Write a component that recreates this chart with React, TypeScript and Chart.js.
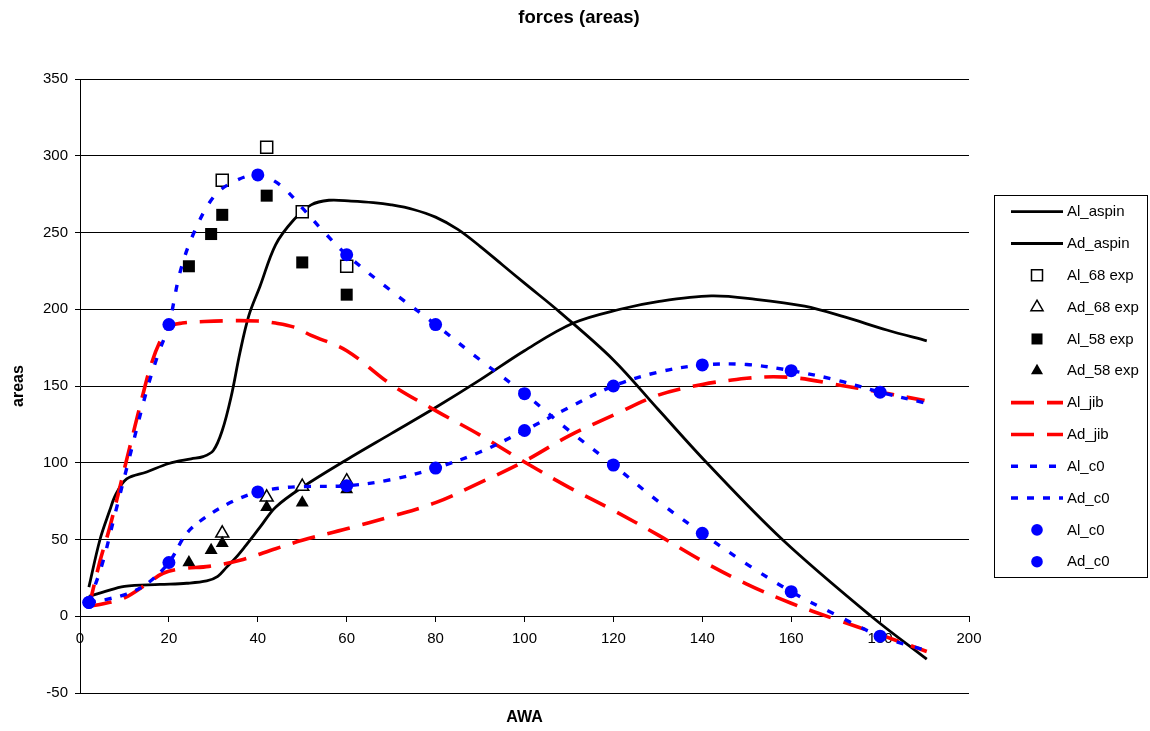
import React, { useEffect, useRef } from 'react';
import { Chart, registerables } from 'chart.js';

Chart.register(...registerables);

const FONT = "'Liberation Sans', Arial, sans-serif";

// ---- axis ranges / ticks ----
const X_MIN = 0;
const X_MAX = 200;
const X_STEP = 20;
const Y_MIN = -50;
const Y_MAX = 350;
const Y_STEP = 50;

// ---- smooth line series ----
const alAspinX = [2, 4.5, 6.7, 8, 10.5, 15, 20, 25, 27.7, 30, 32, 34, 36, 38, 40.5, 44, 48, 52, 56, 61, 66, 70, 75, 80, 85, 90, 95, 100, 108, 120, 130, 141, 158, 178, 190.5];
const alAspinY = [19, 50, 69, 79, 89.5, 94, 99.5, 102.5, 104, 108, 121, 143, 172, 196, 215, 242, 258, 268, 271, 270.5, 269.5, 268, 265, 260, 252, 241, 229, 217, 198, 167, 135, 100, 50, 0, -28];

const adAspinX = [2, 5, 10, 18, 24, 28.5, 31, 33, 35, 37, 40.5, 44, 50, 60, 70, 80, 90, 100, 111, 121.5, 130, 142, 152, 163, 172, 181.5, 190.5];
const adAspinY = [13, 15.5, 19.5, 20.7, 21.5, 23, 26, 32, 38, 45, 58, 71, 84, 102, 119, 136, 154, 173, 191, 200, 205, 208.7, 206.5, 202, 195, 186.5, 179.4];

const alJibX = [2, 4.5, 6.7, 10.5, 14.2, 16, 18, 20, 23, 28, 35, 40, 44, 48, 52, 60, 70, 80, 90, 100, 110, 120, 130, 140, 150, 160, 170, 180, 190.5];
const alJibY = [6, 36, 58, 102, 145, 164, 179, 188.5, 191, 192, 192.6, 192.3, 191, 188.5, 183, 173, 151, 134, 118, 100.5, 84, 69, 53, 36, 21, 8.5, -2, -12, -23];

const adJibX = [2, 5, 10, 15, 18.7, 23, 29, 36, 44, 50, 60, 70, 80, 90, 100, 110, 120, 130, 140, 150, 156, 162, 170, 180, 190];
const adJibY = [6.5, 8, 12, 21, 28, 31, 32.5, 36.5, 44, 49.5, 57, 65, 74, 87, 101, 117.5, 131, 144, 151, 155, 156, 155, 151, 146, 140.5];

const alC0LineX = [2, 5, 8, 11, 15, 17.5, 20, 22.5, 25.5, 30, 34.5, 40, 45, 50, 55, 60, 70, 80, 90, 100, 110, 120, 130, 140, 150, 160, 170, 180, 190];
const alC0LineY = [9, 34, 68, 102, 147, 170, 190, 224, 249, 273, 283, 287.5, 281, 266, 250, 235.5, 212, 190, 167, 145, 121, 98.5, 75, 54, 34, 16, 1, -13, -22];

const adC0LineX = [2, 6, 10.5, 15, 20, 24, 28.5, 34.5, 40, 45, 50, 60, 70, 80, 90, 100, 110, 120, 130, 140, 150, 160, 170, 180, 190];
const adC0LineY = [9, 11, 14.5, 21, 35, 54, 65, 75, 81, 83.5, 84.5, 85, 89, 96.5, 107, 121, 136, 150, 159, 163.7, 164, 160, 154, 146, 139];

// ---- experimental markers ----
const expX68 = [32, 42, 50, 60];
const al68Y = [284, 305.5, 263.5, 228];
const ad68Y = [54, 77.5, 84.5, 88];

const expX58 = [24.5, 29.5, 32, 42, 50, 60];
const al58Y = [228, 249, 261.5, 274, 230.5, 209.5];
const ad58Y = [35, 43, 47.5, 71, 74, 82.5];

// ---- c0 computed points ----
const c0PointX = [2, 20, 40, 60, 80, 100, 120, 140, 160, 180];
const alC0Pts = [9, 190, 287.5, 235.5, 190, 145, 98.5, 54, 16, -13];
const adC0Pts = [9, 35, 81, 85, 96.5, 121, 150, 163.7, 160, 146];

const BLACK = '#000000';
const RED = '#FF0000';
const BLUE = '#0000FF';

const zip = (xs: number[], ys: number[]) => xs.map((x, i) => ({ x, y: ys[i] }));

function lineDs(label: string, xs: number[], ys: number[], color: string, width: number, dash: number[]) {
  return {
    label,
    data: zip(xs, ys),
    borderColor: color,
    backgroundColor: color,
    borderWidth: width,
    borderDash: dash,
    borderCapStyle: 'butt',
    borderJoinStyle: 'round',
    pointRadius: 0,
    pointHoverRadius: 0,
    fill: false,
    showLine: true,
    tension: 0.35,
  };
}

function markerDs(label: string, xs: number[], ys: number[], style: string, radius: number, bg: string, border: string, bw: number) {
  return {
    label,
    data: zip(xs, ys),
    showLine: false,
    pointStyle: style,
    pointRadius: radius,
    pointHoverRadius: radius,
    pointBackgroundColor: bg,
    pointBorderColor: border,
    pointBorderWidth: bw,
    borderColor: border,
    backgroundColor: bg,
  };
}

function drawMarker(ctx: CanvasRenderingContext2D, style: string, x: number, y: number, fill: string, stroke: string, bw: number) {
  ctx.save();
  ctx.setLineDash([]);
  ctx.beginPath();
  if (style === 'rect') {
    const s = 11;
    ctx.rect(x - s / 2, y - s / 2, s, s);
  } else if (style === 'triangle') {
    const r = 7;
    ctx.moveTo(x, y - r);
    ctx.lineTo(x + r * 0.866, y + r / 2);
    ctx.lineTo(x - r * 0.866, y + r / 2);
    ctx.closePath();
  } else {
    ctx.arc(x, y, 5.8, 0, Math.PI * 2);
  }
  ctx.fillStyle = fill;
  ctx.fill();
  if (bw > 0) {
    ctx.lineWidth = bw;
    ctx.strokeStyle = stroke;
    ctx.stroke();
  }
  ctx.restore();
}

const boxLegend = {
  id: 'boxLegend',
  afterDraw(chart: any) {
    const ctx: CanvasRenderingContext2D = chart.ctx;
    const left = 994, top = 195, right = 1147, bottom = 577;
    ctx.save();
    ctx.setLineDash([]);
    ctx.lineWidth = 1;
    ctx.strokeStyle = '#000';
    ctx.strokeRect(left + 0.5, top + 0.5, right - left, bottom - top);
    const n = chart.data.datasets.length;
    const first = 211.7;
    const step = (561.7 - first) / (n - 1);
    chart.data.datasets.forEach((ds: any, i: number) => {
      const y = first + i * step;
      if (ds.showLine === false) {
        drawMarker(ctx, ds.pointStyle, 1037, y, ds.pointBackgroundColor, ds.pointBorderColor, ds.pointBorderWidth);
      } else {
        ctx.save();
        ctx.strokeStyle = ds.borderColor;
        ctx.lineWidth = ds.borderWidth;
        ctx.lineCap = 'butt';
        ctx.setLineDash(ds.borderDash || []);
        ctx.beginPath();
        ctx.moveTo(1011, y);
        ctx.lineTo(1063, y);
        ctx.stroke();
        ctx.restore();
      }
      ctx.fillStyle = '#000';
      ctx.font = `15px ${FONT}`;
      ctx.textAlign = 'left';
      ctx.textBaseline = 'middle';
      ctx.fillText(ds.label, 1067, y + 0.5);
    });
    ctx.restore();
  },
};

export default function App() {
  const ref = useRef<HTMLCanvasElement | null>(null);

  useEffect(() => {
    document.body.style.margin = '0';
    const canvas = ref.current;
    if (!canvas) return;

    const datasets: any[] = [
      lineDs('Al_aspin', alAspinX, alAspinY, BLACK, 2.8, []),
      lineDs('Ad_aspin', adAspinX, adAspinY, BLACK, 2.8, []),
      markerDs('Al_68 exp', expX68, al68Y, 'rect', 8.5, '#FFFFFF', BLACK, 1.5),
      markerDs('Ad_68 exp', expX68, ad68Y, 'triangle', 7.5, '#FFFFFF', BLACK, 1.5),
      markerDs('Al_58 exp', expX58, al58Y, 'rect', 8.5, BLACK, BLACK, 0),
      markerDs('Ad_58 exp', expX58, ad58Y, 'triangle', 7.5, BLACK, BLACK, 0),
      lineDs('Al_jib', alJibX, alJibY, RED, 3.6, [23, 13]),
      lineDs('Ad_jib', adJibX, adJibY, RED, 3.6, [23, 13]),
      lineDs('Al_c0', alC0LineX, alC0LineY, BLUE, 3.4, [7, 12]),
      lineDs('Ad_c0', adC0LineX, adC0LineY, BLUE, 3.4, [7, 9]),
      markerDs('Al_c0', c0PointX, alC0Pts, 'circle', 6.5, BLUE, BLUE, 0),
      markerDs('Ad_c0', c0PointX, adC0Pts, 'circle', 6.5, BLUE, BLUE, 0),
    ];
    datasets.forEach((d, i) => { d.order = datasets.length - i; });

    Chart.defaults.font.family = FONT;
    Chart.defaults.color = '#000';

    const chart = new Chart(canvas, {
      type: 'line',
      data: { datasets },
      options: {
        animation: false,
        responsive: false,
        maintainAspectRatio: false,
        events: [],
        layout: { padding: { left: 8, right: 0, top: 0, bottom: 0 } },
        plugins: {
          legend: { display: false },
          tooltip: { enabled: false },
          title: {
            display: true,
            text: 'forces (areas)',
            color: '#000',
            font: { size: 18.5, weight: 'bold', family: FONT },
            padding: { top: 7.2, bottom: 49.6 },
          },
        },
        scales: {
          x: {
            type: 'linear',
            min: X_MIN,
            max: X_MAX,
            position: { y: 0 },
            ticks: { stepSize: X_STEP, padding: 9, color: '#000', font: { size: 15, family: FONT } },
            grid: { display: true, drawOnChartArea: false, drawTicks: true, tickLength: 5, color: '#000', lineWidth: 1 },
            border: { display: true, color: '#000', width: 1 },
          },
          x2: {
            type: 'linear',
            min: X_MIN,
            max: X_MAX,
            position: 'bottom',
            ticks: { display: false },
            grid: { display: false, drawTicks: false },
            border: { display: false },
            title: {
              display: true,
              text: 'AWA',
              color: '#000',
              font: { size: 16, weight: 'bold', family: FONT },
              padding: { top: 15.4, bottom: 3.4 },
            },
          },
          y: {
            type: 'linear',
            min: Y_MIN,
            max: Y_MAX,
            position: 'left',
            ticks: { stepSize: Y_STEP, padding: 7, color: '#000', font: { size: 15, family: FONT } },
            grid: { color: '#000', lineWidth: 1, tickLength: 5, drawTicks: true },
            border: { display: true, color: '#000', width: 1 },
            title: {
              display: true,
              text: 'areas',
              color: '#000',
              font: { size: 16, weight: 'bold', family: FONT },
              padding: { top: 0.6, bottom: 0 },
            },
            afterFit: (s: any) => { s.width = 72; },
          },
          yRightSpace: {
            type: 'linear',
            min: Y_MIN,
            max: Y_MAX,
            position: 'right',
            ticks: { display: false },
            grid: { display: false, drawTicks: false },
            border: { display: false },
            afterFit: (s: any) => { s.width = 181; },
          },
        },
      } as any,
      plugins: [boxLegend],
    });

    return () => { chart.destroy(); };
  }, []);

  return (
    <div style={{ width: 1150, height: 731 }}>
      <canvas ref={ref} width={1150} height={731} style={{ display: 'block' }} />
    </div>
  );
}
